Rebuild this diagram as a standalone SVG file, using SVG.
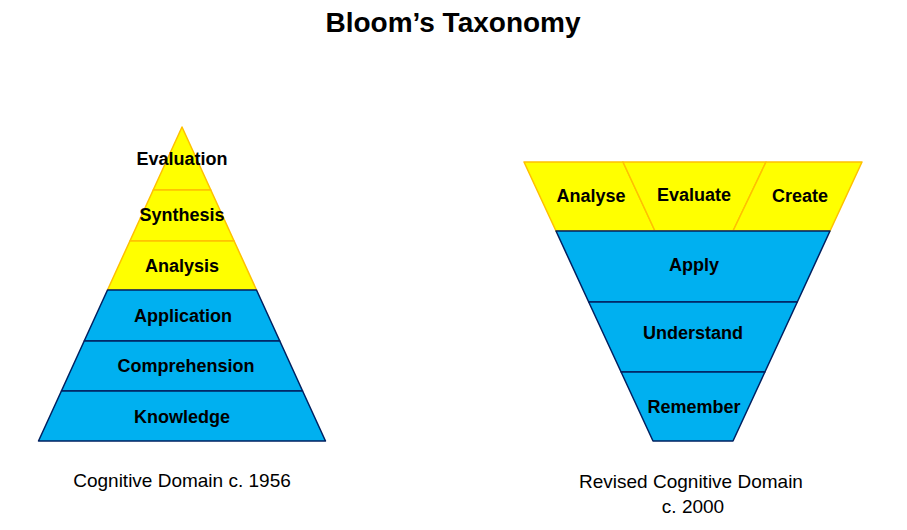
<svg xmlns="http://www.w3.org/2000/svg" width="907" height="530" viewBox="0 0 907 530">
<style>
.y{fill:#FFFF00;stroke:#FFC000;stroke-width:1.5;stroke-linejoin:round}
.b{fill:#00B0F0;stroke:#002060;stroke-width:1.5;stroke-linejoin:round}
.l{font-family:"Liberation Sans",Arial,sans-serif;font-weight:bold;font-size:18px;fill:#000;text-anchor:middle}
.c{font-family:"Liberation Sans",Arial,sans-serif;font-size:19px;fill:#000;text-anchor:middle}
.t{font-family:"Liberation Sans",Arial,sans-serif;font-weight:bold;font-size:28px;fill:#000;text-anchor:middle}
</style>
<rect width="907" height="530" fill="#fff"/>
<text class="t" x="453" y="32">Bloom’s Taxonomy</text>

<g id="left-pyramid">
<g id="evaluation"><polygon class="y" points="182,127 210.8,190 153.2,190"/><text class="l" x="182" y="165">Evaluation</text></g>
<g id="synthesis"><polygon class="y" points="153.2,190 210.8,190 234.1,241 129.9,241"/><text class="l" x="182" y="221">Synthesis</text></g>
<g id="analysis"><polygon class="y" points="129.9,241 234.1,241 256.5,290 107.5,290"/><text class="l" x="182" y="272">Analysis</text></g>
<g id="application"><polygon class="b" points="107.5,290 256.5,290 279.8,341 84.2,341"/><text class="l" x="183" y="322">Application</text></g>
<g id="comprehension"><polygon class="b" points="84.2,341 279.8,341 302.6,391 61.4,391"/><text class="l" x="186" y="372">Comprehension</text></g>
<g id="knowledge"><polygon class="b" points="61.4,391 302.6,391 325.5,441 38.5,441"/><text class="l" x="182" y="423">Knowledge</text></g>
<text class="c" x="182" y="487">Cognitive Domain c. 1956</text>
</g>

<g id="right-pyramid">
<g id="analyse"><polygon class="y" points="524,162 623,162 655,231 556,231"/><text class="l" x="591" y="202">Analyse</text></g>
<g id="evaluate"><polygon class="y" points="623,162 766,162 733,231 655,231"/><text class="l" x="694" y="201">Evaluate</text></g>
<g id="create"><polygon class="y" points="766,162 862,162 830,231 733,231"/><text class="l" x="800" y="202">Create</text></g>
<g id="apply"><polygon class="b" points="556,231 830,231 797.3,302 588.7,302"/><text class="l" x="694" y="271">Apply</text></g>
<g id="understand"><polygon class="b" points="588.7,302 797.3,302 764.9,372 621.1,372"/><text class="l" x="693" y="339">Understand</text></g>
<g id="remember"><polygon class="b" points="621.1,372 764.9,372 733,441 653,441"/><text class="l" x="694" y="413">Remember</text></g>
<text class="c" x="691" y="488">Revised Cognitive Domain</text>
<text class="c" x="693" y="513">c. 2000</text>
</g>

<g id="connectors"></g>
</svg>
